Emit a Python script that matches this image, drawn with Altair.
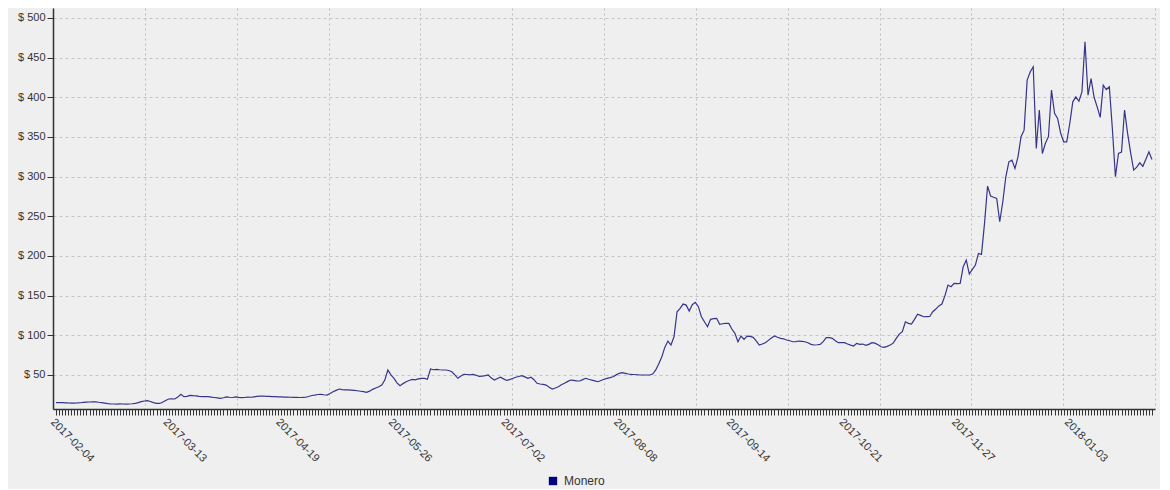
import altair as alt
import pandas as pd

start_date = "2017-02-04"
prices = [
    15.0, 15.2, 15.0, 14.8, 14.6, 14.5, 14.4, 14.6, 14.9, 15.3,
    15.6, 15.8, 16.0, 16.1, 15.5, 15.0, 14.4, 13.8, 13.4, 13.3,
    13.2, 13.4, 13.3, 13.2, 13.3, 13.6, 14.2, 15.0, 16.2, 17.1,
    17.5, 16.5, 15.0, 14.2, 14.0, 15.5, 17.8, 19.6, 19.8, 19.6,
    22.0, 25.5, 22.5, 23.0, 24.2, 23.8, 23.5, 23.0, 22.7, 22.5,
    22.5, 22.0, 21.5, 21.0, 20.5, 21.2, 22.3, 21.8, 21.5, 22.2,
    21.6, 21.3, 21.5, 22.0, 21.8, 22.3, 22.8, 23.2, 23.4, 23.0,
    22.8, 22.6, 22.5, 22.3, 22.2, 22.0, 21.9, 21.8, 21.7, 21.6,
    21.5, 21.6, 21.8, 22.8, 24.0, 24.6, 25.3, 25.5, 25.0, 24.6,
    26.5, 28.8, 30.5, 32.2, 31.5, 31.0, 31.2, 30.9, 30.5, 30.0,
    29.4, 28.8, 28.0, 29.5, 31.8, 33.5, 35.0, 37.2, 43.5, 56.2,
    50.0, 45.7, 40.0, 36.4, 39.0, 41.4, 43.0, 44.4, 43.8, 45.0,
    45.7, 45.5, 44.4, 57.4, 56.5, 57.0, 56.5, 56.2, 56.2, 55.5,
    54.0, 50.0, 45.7, 48.5, 50.7, 50.5, 50.2, 50.7, 49.5, 48.2,
    48.5, 49.0, 49.9, 46.0, 43.5, 45.5, 47.0, 45.0, 43.0, 44.0,
    45.5, 47.0, 48.0, 49.0, 47.5, 45.7, 47.0, 44.0, 39.4, 38.5,
    38.0, 37.2, 34.5, 32.2, 33.5, 35.1, 37.5, 39.4, 41.5, 43.5,
    43.0, 42.5, 42.3, 44.0, 45.7, 44.5, 43.5, 42.5, 41.4, 43.0,
    44.5, 45.7, 46.5, 47.7, 50.0, 52.0, 52.8, 52.0, 51.1, 50.7,
    50.5, 50.2, 49.9, 49.9, 49.9, 49.9, 51.1, 56.2, 64.0, 72.9,
    85.0, 92.7, 87.7, 98.1, 129.6, 134.0, 139.3, 138.0, 130.5, 138.5,
    141.5, 136.0, 123.3, 117.0, 110.7, 120.0, 121.0, 121.3, 113.7, 114.5,
    115.0, 115.0, 107.8, 102.4, 91.8, 99.0, 94.8, 99.0, 98.5, 97.4,
    93.0, 87.7, 89.0, 90.6, 93.5, 96.5, 99.0, 97.5, 96.1, 95.5,
    94.0, 93.0, 91.8, 92.0, 92.7, 92.3, 91.8, 90.5, 88.5, 87.7,
    88.0, 88.5, 92.0, 96.9, 97.0, 96.1, 93.0, 90.6, 90.6, 90.6,
    89.0, 87.5, 86.4, 89.8, 88.5, 88.9, 87.2, 88.5, 90.6, 90.0,
    88.0, 85.5, 84.8, 86.0, 87.7, 90.0, 96.0, 101.5, 104.4, 117.0,
    115.0, 114.0, 120.0, 126.4, 125.0, 123.3, 123.5, 123.6, 129.6, 133.0,
    137.0, 139.3, 150.0, 163.3, 161.2, 165.4, 165.0, 165.4, 186.4, 194.8,
    177.2, 183.0, 188.5, 203.2, 202.0, 241.0, 288.1, 275.5, 274.0, 272.6,
    243.1, 268.3, 299.8, 318.7, 320.8, 310.3, 325.0, 350.3, 358.6, 421.7,
    432.0, 438.5, 335.5, 383.9, 329.2, 342.0, 350.3, 409.1, 379.7, 373.4,
    355.0, 343.9, 343.9, 367.0, 394.3, 400.6, 395.0, 406.9, 470.0, 402.6,
    423.6, 400.0, 388.0, 374.7, 415.4, 409.8, 413.3, 360.0, 299.8, 329.2,
    331.0, 383.9, 354.5, 330.0, 308.2, 312.0, 317.4, 313.0, 322.0, 331.3,
    321.7,
]
series_name = "Monero"
y_ticks = [50, 100, 150, 200, 250, 300, 350, 400, 450, 500]
label_every_days = 37
grid_divisions = list(range(13))

dates = pd.date_range(start_date, periods=len(prices), freq="D").strftime("%Y-%m-%d")
df = pd.DataFrame({"date": dates, "price": prices, "series": series_name})
grid_df = pd.DataFrame({"g": [grid_divisions[0], grid_divisions[-1]]})

FONT = "Liberation Sans"
TXT = "#333333"

y_enc = alt.Y(
    "price:Q",
    scale=alt.Scale(domain=[7, 512.6], nice=False, zero=False),
    axis=alt.Axis(
        values=y_ticks,
        labelExpr="'$ ' + datum.value",
        title=None,
        grid=True,
        gridDash=[3, 3],
        gridColor="#c4c4c4",
        gridWidth=1,
        domainColor=TXT,
        domainWidth=1.5,
        tickColor=TXT,
        tickSize=6,
        labelColor=TXT,
        labelFont=FONT,
        labelFontSize=11,
        labelPadding=2,
    ),
)

grid_layer = alt.Chart(grid_df).mark_point(opacity=0).encode(
    x=alt.X(
        "g:Q",
        scale=alt.Scale(domain=[0, 12], nice=False, zero=False),
        axis=alt.Axis(
            orient="top",
            values=grid_divisions,
            labels=False,
            ticks=False,
            domain=False,
            grid=True,
            gridDash=[2, 3],
            gridColor="#bdbdbd",
            gridWidth=1,
            title=None,
        ),
    ),
)

label_expr = (
    f"round((toDate(datum.value) - toDate('{start_date}')) / 86400000) % {label_every_days} == 0"
    " ? datum.value : ''"
)

line_layer = alt.Chart(df).mark_line(strokeWidth=1.2).encode(
    x=alt.X(
        "date:O",
        scale=alt.Scale(type="point", padding=3.8),
        axis=alt.Axis(
            title=None,
            labelExpr=label_expr,
            labelAngle=45,
            labelAlign="left",
            labelBaseline="top",
            labelOverlap=False,
            labelFont=FONT,
            labelFontSize=11,
            labelColor=TXT,
            labelPadding=1,
            tickSize=6,
            tickColor=TXT,
            domainColor=TXT,
            domainWidth=1.5,
            grid=False,
        ),
    ),
    y=y_enc,
    color=alt.Color(
        "series:N",
        scale=alt.Scale(domain=[series_name], range=["#35358a"]),
        legend=alt.Legend(
            title=None,
            orient="none",
            legendX=494,
            legendY=467,
            symbolType="square",
            symbolSize=70,
            symbolFillColor="#000080",
            symbolStrokeColor="#000080",
            symbolStrokeWidth=0,
            labelFont=FONT,
            labelFontSize=12,
            labelColor=TXT,
            labelOffset=5,
            padding=0,
        ),
    ),
)

chart = (
    alt.layer(grid_layer, line_layer)
    .resolve_scale(x="independent")
    .properties(
        width=1102,
        height=401,
        autosize=alt.AutoSizeParams(type="none"),
        padding={"left": 45, "top": 0, "right": 5, "bottom": 80},
        background="#efefef",
    )
    .configure_view(stroke=None)
)

chart.save("out.html", embed_options={"renderer": "svg", "actions": False})
